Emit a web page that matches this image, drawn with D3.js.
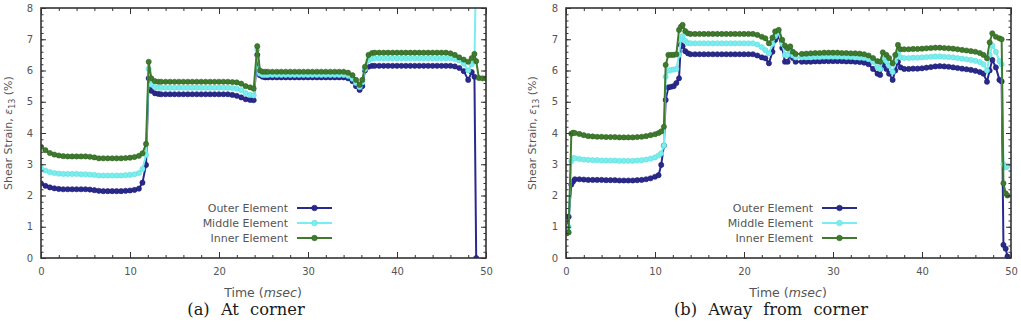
<!DOCTYPE html>
<html><head><meta charset="utf-8">
<script src="https://cdn.jsdelivr.net/npm/d3@7"></script>
<style>
html,body{margin:0;padding:0;background:#fff;}
svg{display:block;}
</style></head>
<body>
<svg id="chart" width="1021" height="322"></svg>
<script>
// ---------- DATA ----------
const seriesNames = ["Outer Element", "Middle Element", "Inner Element"];
const xTicks = [0, 10, 20, 30, 40, 50];
const yTicks = [0, 1, 2, 3, 4, 5, 6, 7, 8];

// Panel (a): At corner
const timeA = [
  0,0.5,1,1.5,2,2.5,3,3.5,4,4.5,5,5.5,6,6.5,7,7.5,8,8.5,9,9.5,10,10.5,11,
  11.4,11.8,12.1,12.4,12.8,13.2,
  13.5,14,14.5,15,15.5,16,16.5,17,17.5,18,18.5,19,19.5,20,20.5,21,21.5,22,22.5,23,
  23.5,23.9,24.3,24.6,24.9,25.2,
  25.5,26,26.5,27,27.5,28,28.5,29,29.5,30,30.5,31,31.5,32,32.5,33,33.5,34,34.5,35,
  35.4,35.8,36.1,36.4,36.8,37.2,
  37.5,38,38.5,39,39.5,40,40.5,41,41.5,42,42.5,43,43.5,44,44.5,45,45.5,46,46.5,47,47.5,
  48.0,48.4,48.7,48.9,49.2,49.6,50
];
const outerA = [
  2.39,2.31,2.26,2.23,2.21,2.2,2.2,2.2,2.2,2.2,2.2,2.19,2.17,2.15,2.14,2.14,2.14,2.14,2.14,2.15,2.16,2.18,2.22,
  2.41,2.98,5.75,5.35,5.27,5.25,
  5.24,5.24,5.24,5.24,5.24,5.24,5.24,5.24,5.24,5.24,5.24,5.24,5.24,5.24,5.24,5.24,5.22,5.19,5.14,5.08,
  5.06,5.05,6.5,5.85,5.8,5.78,
  5.78,5.78,5.78,5.78,5.78,5.78,5.78,5.78,5.78,5.78,5.78,5.78,5.78,5.78,5.78,5.78,5.78,5.78,5.75,5.66,
  5.5,5.38,5.5,6.0,6.12,6.15,
  6.15,6.15,6.15,6.15,6.15,6.15,6.15,6.15,6.15,6.15,6.15,6.15,6.15,6.15,6.15,6.15,6.15,6.15,6.13,6.08,5.98,
  5.7,5.95,5.8,0,null,null,null
];
const middleA = [
  2.87,2.8,2.75,2.72,2.7,2.69,2.69,2.69,2.69,2.68,2.68,2.67,2.66,2.64,2.64,2.64,2.64,2.64,2.64,2.65,2.66,2.68,2.72,
  2.85,3.3,6.05,5.55,5.47,5.45,
  5.45,5.45,5.45,5.45,5.45,5.45,5.45,5.45,5.45,5.45,5.45,5.45,5.45,5.45,5.45,5.45,5.44,5.42,5.37,5.28,
  5.22,5.2,6.68,5.9,5.86,5.86,
  5.86,5.86,5.86,5.86,5.86,5.86,5.86,5.86,5.86,5.86,5.86,5.86,5.86,5.86,5.86,5.86,5.86,5.86,5.83,5.74,
  5.6,5.47,5.62,6.05,6.33,6.38,
  6.39,6.39,6.39,6.39,6.39,6.39,6.39,6.39,6.39,6.39,6.39,6.39,6.39,6.39,6.39,6.39,6.39,6.39,6.37,6.32,6.22,
  6.0,6.2,6.3,9.5,null,null,null
];
const innerA = [
  3.56,3.45,3.36,3.31,3.28,3.26,3.25,3.25,3.25,3.25,3.25,3.24,3.22,3.19,3.19,3.19,3.19,3.19,3.19,3.2,3.21,3.23,3.27,
  3.35,3.65,6.28,5.75,5.66,5.64,
  5.64,5.64,5.64,5.64,5.64,5.64,5.64,5.64,5.64,5.64,5.64,5.64,5.64,5.64,5.64,5.64,5.63,5.62,5.58,5.5,
  5.46,5.42,6.78,6.0,5.96,5.96,
  5.96,5.96,5.96,5.96,5.96,5.96,5.96,5.96,5.96,5.96,5.96,5.96,5.96,5.96,5.96,5.96,5.96,5.96,5.93,5.85,
  5.7,5.54,5.7,6.12,6.5,6.56,
  6.57,6.57,6.57,6.57,6.57,6.57,6.57,6.57,6.57,6.57,6.57,6.57,6.57,6.57,6.57,6.57,6.57,6.55,6.5,6.42,6.35,
  6.28,6.4,6.53,6.3,5.76,5.75,5.75
];

// Panel (b): Away from corner
const timeB = [
  0.1,0.3,0.6,0.8,1,1.5,2,2.5,3,3.5,4,4.5,5,5.5,6,6.5,7,7.5,8,8.5,9,9.5,10,
  10.4,10.7,11.0,11.2,11.5,11.8,12.1,12.4,12.7,12.9,13.1,13.4,13.7,
  14,14.5,15,15.5,16,16.5,17,17.5,18,18.5,19,19.5,20,20.5,21,21.5,22,
  22.4,22.8,23.2,23.5,23.9,24.3,24.6,24.9,25.2,25.5,25.8,
  26.5,27,27.5,28,28.5,29,29.5,30,30.5,31,31.5,32,32.5,33,33.5,34,34.5,
  35.0,35.3,35.6,36.0,36.3,36.7,37.0,37.3,37.6,
  38,38.5,39,39.5,40,40.5,41,41.5,42,42.5,43,43.5,44,44.5,45,45.5,46,46.5,
  46.9,47.3,47.6,47.9,48.3,48.7,48.95,49.15,49.4,49.6
];
const outerB = [
  0.9,1.32,2.35,2.45,2.52,2.52,2.51,2.5,2.5,2.5,2.5,2.49,2.49,2.49,2.48,2.48,2.48,2.48,2.49,2.5,2.52,2.55,2.6,
  2.65,2.98,3.6,5.06,5.46,5.48,5.5,5.6,5.75,6.82,6.78,6.62,6.55,
  6.52,6.52,6.52,6.52,6.52,6.52,6.52,6.52,6.52,6.52,6.52,6.52,6.52,6.52,6.52,6.48,6.42,
  6.39,6.23,6.6,6.98,7.1,6.72,6.28,6.28,6.53,6.4,6.28,
  6.28,6.28,6.28,6.29,6.29,6.3,6.3,6.3,6.3,6.3,6.29,6.29,6.28,6.27,6.25,6.2,6.05,
  5.9,5.86,6.18,6.05,5.9,5.7,6.0,6.28,6.1,
  6.05,6.05,6.06,6.06,6.07,6.09,6.11,6.13,6.14,6.13,6.12,6.1,6.08,6.06,6.04,6.02,5.99,5.95,
  5.9,5.64,6.0,6.34,6.1,5.7,5.65,0.42,0.3,0.05
];
const middleB = [
  0.85,1.0,3.1,3.2,3.19,3.17,3.15,3.14,3.13,3.13,3.12,3.12,3.12,3.12,3.11,3.11,3.11,3.11,3.12,3.13,3.15,3.18,3.22,
  3.28,3.35,3.6,5.8,6.0,6.02,6.03,6.05,6.5,7.0,7.1,6.95,6.88,
  6.87,6.87,6.87,6.87,6.87,6.87,6.87,6.87,6.87,6.87,6.87,6.87,6.87,6.87,6.87,6.83,6.75,
  6.65,6.55,6.85,7.1,7.2,6.85,6.5,6.5,6.65,6.48,6.42,
  6.42,6.42,6.42,6.43,6.43,6.44,6.44,6.44,6.44,6.44,6.43,6.43,6.42,6.41,6.4,6.37,6.28,
  6.1,6.05,6.38,6.3,6.15,5.95,6.3,6.55,6.42,
  6.4,6.4,6.41,6.41,6.42,6.43,6.44,6.45,6.45,6.44,6.43,6.42,6.4,6.38,6.36,6.34,6.31,6.27,
  6.2,6.0,6.5,6.8,6.6,6.3,6.2,3.0,2.9,2.95
];
const innerB = [
  0.79,0.82,3.98,4.01,4.0,3.97,3.93,3.9,3.89,3.88,3.88,3.87,3.87,3.87,3.86,3.86,3.86,3.86,3.87,3.88,3.9,3.93,3.96,
  4.0,4.05,4.2,6.18,6.5,6.5,6.5,6.52,7.3,7.4,7.46,7.26,7.19,
  7.17,7.17,7.17,7.17,7.17,7.17,7.17,7.17,7.17,7.17,7.17,7.17,7.17,7.17,7.17,7.14,7.08,
  7.03,6.87,7.05,7.25,7.3,6.98,6.8,6.71,6.77,6.6,6.53,
  6.53,6.54,6.55,6.56,6.56,6.57,6.57,6.57,6.57,6.56,6.56,6.55,6.55,6.54,6.52,6.48,6.4,
  6.3,6.28,6.58,6.5,6.4,6.23,6.5,6.82,6.68,
  6.68,6.68,6.69,6.69,6.7,6.71,6.72,6.73,6.73,6.72,6.71,6.7,6.68,6.66,6.64,6.62,6.6,6.56,
  6.5,6.39,6.9,7.19,7.08,7.03,7.0,2.39,2.07,2.0
];

const colors = ["#2a2a8e", "#7aeeee", "#3f7a2e"];
const edgeColors = ["#1c1c70", "#60dede", "#2f6420"];

// ---------- DRAW ----------
const svg = d3.select("#chart");
const FONT = "'DejaVu Sans', 'Open Sans', sans-serif";
const TEXTC = "#555";

svg.append("defs").selectAll("clipPath")
  .data(["a","b"]).enter().append("clipPath").attr("id", d => "clip-" + d)
  .append("rect");

function drawPanel(cfg) {
  const x = d3.scaleLinear().domain([0, 50]).range([cfg.x0, cfg.x1]);
  const y = d3.scaleLinear().domain([0, 8]).range([258, 8]);
  const g = svg.append("g");

  d3.select("#clip-" + cfg.id + " rect")
    .attr("x", cfg.x0).attr("y", 8)
    .attr("width", cfg.x1 - cfg.x0).attr("height", 250);

  const plot = g.append("g").attr("clip-path", "url(#clip-" + cfg.id + ")");
  const series = [cfg.outer, cfg.middle, cfg.inner];
  series.forEach((vals, i) => {
    const pts = cfg.time.map((t, k) => ({t, v: vals[k]})).filter(d => d.v !== null);
    plot.append("path")
      .datum(pts)
      .attr("fill", "none")
      .attr("stroke", colors[i])
      .attr("stroke-width", 2)
      .attr("d", d3.line().x(d => x(d.t)).y(d => y(d.v)));
    plot.append("g").selectAll("circle").data(pts).enter().append("circle")
      .attr("cx", d => x(d.t)).attr("cy", d => y(d.v))
      .attr("r", 2.6)
      .attr("fill", colors[i])
      .attr("stroke", edgeColors[i])
      .attr("stroke-width", 0.6);
  });

  const axStyle = sel => {
    sel.select(".domain").remove();
    sel.selectAll("line").attr("stroke", "#333").attr("stroke-width", 1);
    sel.selectAll("text").attr("fill", TEXTC).style("font-family", FONT).style("font-size", "10px");
  };
  const minorX = d3.range(0, 50.01, 2);
  const minorY = d3.range(0, 8.001, 0.2);

  g.append("g").attr("transform", "translate(0,258)")
    .call(d3.axisBottom(x).tickValues(xTicks).tickSize(-6).tickPadding(10).tickFormat(d3.format("d")))
    .call(axStyle);
  g.append("g").attr("transform", "translate(0,258)")
    .call(d3.axisBottom(x).tickValues(minorX).tickSize(-3).tickFormat(""))
    .call(axStyle);
  g.append("g").attr("transform", "translate(0,8)")
    .call(d3.axisTop(x).tickValues(xTicks).tickSize(-6).tickFormat(""))
    .call(axStyle);
  g.append("g").attr("transform", "translate(0,8)")
    .call(d3.axisTop(x).tickValues(minorX).tickSize(-3).tickFormat(""))
    .call(axStyle);
  g.append("g").attr("transform", `translate(${cfg.x0},0)`)
    .call(d3.axisLeft(y).tickValues(yTicks).tickSize(-5).tickPadding(8).tickFormat(d3.format("d")))
    .call(axStyle);
  g.append("g").attr("transform", `translate(${cfg.x0},0)`)
    .call(d3.axisLeft(y).tickValues(minorY).tickSize(-2.5).tickFormat(""))
    .call(axStyle);
  g.append("g").attr("transform", `translate(${cfg.x1},0)`)
    .call(d3.axisRight(y).tickValues(yTicks).tickSize(-5).tickFormat(""))
    .call(axStyle);
  g.append("g").attr("transform", `translate(${cfg.x1},0)`)
    .call(d3.axisRight(y).tickValues(minorY).tickSize(-2.5).tickFormat(""))
    .call(axStyle);

  g.append("rect")
    .attr("x", cfg.x0).attr("y", 8)
    .attr("width", cfg.x1 - cfg.x0).attr("height", 250)
    .attr("fill", "none").attr("stroke", "#333").attr("stroke-width", 1.6);

  // legend
  const lg = g.append("g");
  seriesNames.forEach((name, i) => {
    const yy = 208 + i * 15;
    lg.append("text")
      .attr("x", cfg.legX).attr("y", yy).attr("dy", "0.35em")
      .attr("text-anchor", "end")
      .style("font-family", FONT).style("font-size", "11px").attr("fill", TEXTC)
      .text(name);
    lg.append("line")
      .attr("x1", cfg.legX + 9).attr("x2", cfg.legX + 44)
      .attr("y1", yy).attr("y2", yy)
      .attr("stroke", colors[i]).attr("stroke-width", 2);
    lg.append("circle")
      .attr("cx", cfg.legX + 26.5).attr("cy", yy).attr("r", 2.8)
      .attr("fill", colors[i]).attr("stroke", edgeColors[i]).attr("stroke-width", 0.6);
  });

  // y label
  const ylab = g.append("text")
    .attr("transform", `translate(${cfg.yLabX},133) rotate(-90)`)
    .attr("text-anchor", "middle")
    .style("font-family", FONT).style("font-size", "11px").attr("fill", TEXTC);
  ylab.append("tspan").text("Shear Strain, ");
  ylab.append("tspan").style("font-style", "italic").text("ε");
  ylab.append("tspan").attr("dy", 3).style("font-size", "8px").text("13");
  ylab.append("tspan").attr("dy", -3).text(" (%)");

  // x label
  const xlab = g.append("text")
    .attr("x", cfg.xLabX).attr("y", 297)
    .attr("text-anchor", "middle")
    .style("font-family", FONT).style("font-size", "12.5px").attr("fill", TEXTC);
  xlab.append("tspan").text("Time (");
  xlab.append("tspan").style("font-style", "italic").text("msec");
  xlab.append("tspan").text(")");

  // caption
  g.append("text")
    .attr("x", cfg.capX).attr("y", 315)
    .attr("text-anchor", "middle")
    .style("font-family", "'DejaVu Serif', serif").style("font-size", "16.3px")
    .style("word-spacing", "6px")
    .attr("fill", "#1a1a1a")
    .text(cfg.caption);
}

drawPanel({id: "a", x0: 41, x1: 486, time: timeA, outer: outerA, middle: middleA, inner: innerA,
  legX: 288, yLabX: 12, xLabX: 263, capX: 246, caption: "(a) At corner"});
drawPanel({id: "b", x0: 566, x1: 1011, time: timeB, outer: outerB, middle: middleB, inner: innerB,
  legX: 813, yLabX: 536, xLabX: 788, capX: 771, caption: "(b) Away from corner"});
</script>
</body></html>
